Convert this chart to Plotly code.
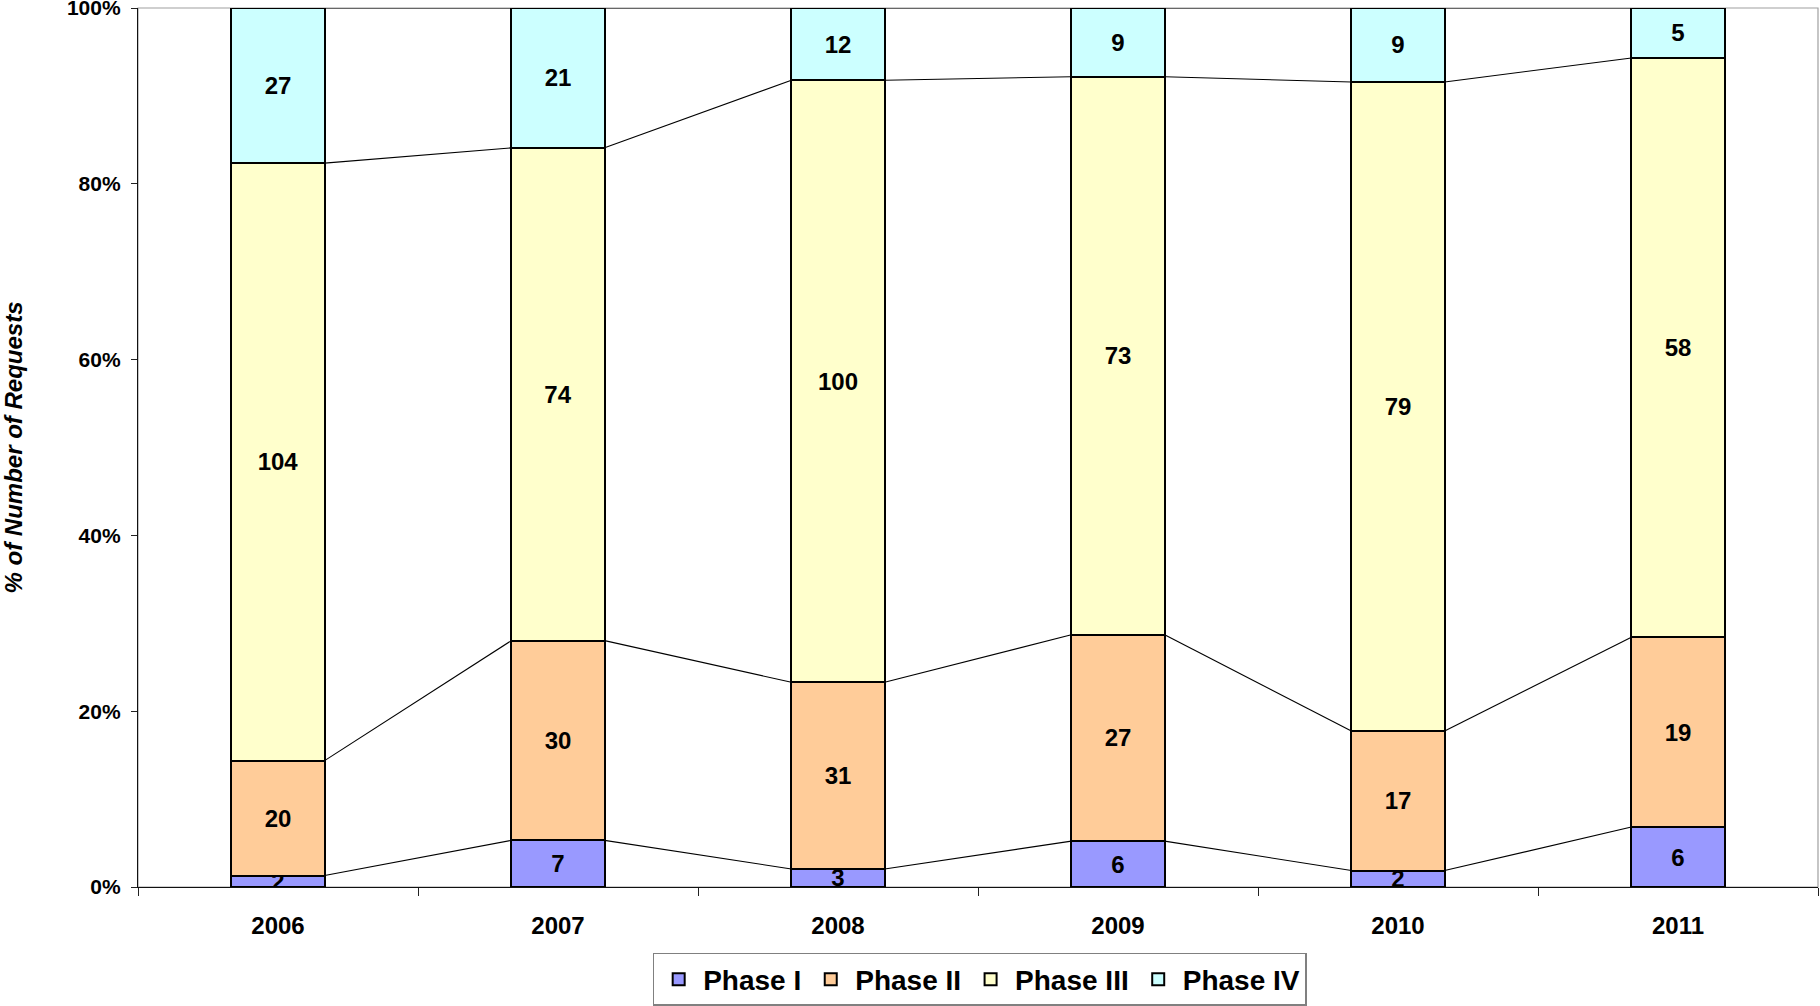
import plotly.graph_objects as go

years = ["2006", "2007", "2008", "2009", "2010", "2011"]
phase_names = ["Phase I", "Phase II", "Phase III", "Phase IV"]
phase1 = [2, 7, 3, 6, 2, 6]
phase2 = [20, 30, 31, 27, 17, 19]
phase3 = [104, 74, 100, 73, 79, 58]
phase4 = [27, 21, 12, 9, 9, 5]
colors = ["#9999FF", "#FFCC99", "#FFFFCC", "#CCFFFF"]
y_ticks = [0, 20, 40, 60, 80, 100]
y_tick_text = ["0%", "20%", "40%", "60%", "80%", "100%"]

series = [phase1, phase2, phase3, phase4]
FONT = "Liberation Sans, Arial, sans-serif"
BAR_W = 0.333

fig = go.Figure()

# series lines (Excel style) connecting the top of each segment between bars
totals = [sum(s[i] for s in series) for i in range(len(years))]
cum = [0.0] * len(years)
for s in series:
    cum = [cum[i] + s[i] for i in range(len(years))]
    pct = [100.0 * cum[i] / totals[i] for i in range(len(years))]
    xs, ys = [], []
    for i in range(len(years) - 1):
        xs += [i + BAR_W / 2, i + 1 - BAR_W / 2, None]
        ys += [pct[i], pct[i + 1], None]
    fig.add_trace(go.Scatter(x=xs, y=ys, mode="lines", xaxis="x2",
                             line=dict(color="black", width=1.1),
                             showlegend=False, hoverinfo="skip"))

for name, vals, col in zip(phase_names, series, colors):
    fig.add_trace(go.Bar(
        x=years, y=vals, name=name, text=[str(v) for v in vals],
        textposition="inside", insidetextanchor="middle", constraintext="none",
        textangle=0,
        textfont=dict(family=FONT, size=24, color="black", weight="bold"),
        marker=dict(color=col, line=dict(color="black", width=2)),
    ))

fig.update_layout(
    width=1820, height=1006,
    barmode="stack", barnorm="percent", bargap=1 - BAR_W,
    paper_bgcolor="white", plot_bgcolor="white",
    margin=dict(l=138, r=2, t=8, b=119, autoexpand=False),
    font=dict(family=FONT, color="black"),
    xaxis=dict(type="category", tickson="boundaries", ticks="outside", ticklen=8,
               tickcolor="#222222", tickwidth=1, showline=True, linecolor="#111111",
               linewidth=1.3, showgrid=False, ticklabelstandoff=17,
               tickfont=dict(family=FONT, size=24, color="black", weight="bold")),
    xaxis2=dict(overlaying="x", range=[-0.5, 5.5], visible=False),
    yaxis=dict(range=[0, 100], tickmode="array", tickvals=y_ticks, ticktext=y_tick_text,
               ticks="outside", ticklabeloverflow="allow",
               ticklen=6, tickcolor="#222222", showline=True, linecolor="#111111",
               linewidth=1.3, showgrid=False, zeroline=False, ticklabelstandoff=6,
               tickfont=dict(family=FONT, size=21, color="black", weight="bold"),
               title=dict(text="<b><i>% of Number of Requests</i></b>", standoff=40,
                          font=dict(family=FONT, size=24, color="black"))),
    legend=dict(orientation="h", x=0.501, xanchor="center", y=-0.075, yanchor="top",
                bordercolor="#808080", borderwidth=1.5, bgcolor="white",
                font=dict(family=FONT, size=28, color="black", weight="bold"),
                traceorder="normal", itemwidth=39),
    shapes=[dict(type="rect", xref="paper", yref="paper", x0=0, x1=1, y0=0, y1=1,
                 line=dict(color="#A0A0A0", width=1.2), layer="below")],
)

fig.write_html("out.html", config={"displayModeBar": False},
               post_script="document.body.style.margin='0';document.body.style.padding='0';")
